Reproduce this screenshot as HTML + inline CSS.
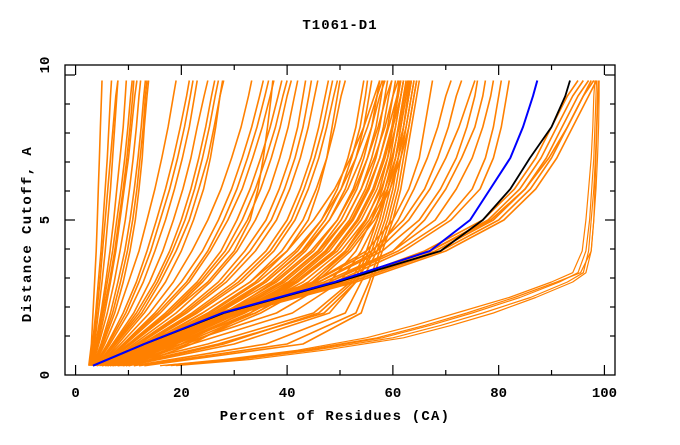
<!DOCTYPE html>
<html><head><meta charset="utf-8"><style>
html,body{margin:0;padding:0;background:#fff;}
svg text{font-family:"Liberation Mono",monospace;font-weight:bold;fill:#000;}
</style></head><body>
<svg id="chart" width="680" height="440" viewBox="0 0 680 440" xmlns="http://www.w3.org/2000/svg">
<rect x="0" y="0" width="680" height="440" fill="#fff"/>
<text x="340" y="29" text-anchor="middle" font-size="14" letter-spacing="1">T1061-D1</text>
<g id="series"></g>
<g id="axes"></g>
<text x="335" y="420" text-anchor="middle" font-size="14" letter-spacing="1.2">Percent of Residues (CA)</text>
<text x="31" y="234" text-anchor="middle" font-size="14" letter-spacing="1.4" transform="rotate(-90 31 234)">Distance Cutoff, A</text>
</svg>
<script>
const levels = [0.3,1,2,3,4,5,6,7,8,9,9.5];
const orangeCurves = [
[2.5,3,3.3,3.6,3.9,4.1,4.3,4.5,4.7,4.9,5],
[2.6,3.2,3.8,4.3,4.8,5.2,5.6,6,6.3,6.6,6.8],
[2.8,3.6,4.3,5,5.6,6.1,6.6,7,7.4,7.8,8],
[3,3.8,4.8,5.7,6.5,7.2,7.8,8.4,9,9.4,9.6],
[3,4,5.2,6.4,7.4,8.2,9,9.7,10.3,10.8,11],
[3.2,4.4,6,7.3,8.4,9.4,10.2,10.9,11.5,12,12.3],
[3.3,4.8,6.6,8,9.3,10.3,11.1,11.8,12.4,12.9,13.2],
[3.5,5.2,7.4,9,10.3,11.3,12,12.6,13,13.5,13.8],
[2.7,3.4,4,4.6,5.1,5.6,6.1,6.6,7.1,7.6,8],
[3.1,4.2,5.5,6.6,7.6,8.4,9.2,10,10.6,11.2,11.6],
[2.9,3.9,5,6,7,7.8,8.6,9.3,9.9,10.4,10.7],
[3.4,5,7,8.5,9.8,10.8,11.6,12.2,12.8,13.2,13.5],
[3.5,5.5,8,10,12,13.5,15,16.3,17.5,18.5,19],
[3.6,6,9,11.5,13.5,15.3,17,18.5,19.8,21,21.5],
[3.8,6.5,10,12.8,15,17,18.7,20.2,21.5,22.5,23],
[4,7,11,14,16.5,18.5,20.3,21.8,23,24.3,25],
[4,7.2,11.5,15,17.8,20,21.8,23.3,24.6,25.7,26.3],
[4.2,7.6,12.5,16,19,21.5,23.3,25,26.2,27.3,28],
[4.5,8,13,17,20,22.3,24.2,25.5,26.5,27.3,27.8],
[3.7,6.2,9.5,12,14.2,16,17.8,19.3,20.6,21.7,22.2],
[4.1,7.4,12,15.5,18.3,20.7,22.5,24,25.3,26.4,27],
[4.5,8.5,14,18.5,22,25,27.5,29.5,31.3,32.7,33.3],
[4.7,9,15,20,24,27,29.5,31.5,33.3,34.8,35.5],
[5,9.5,16,21.5,25.5,28.8,31.5,33.5,35.3,36.8,37.5],
[5,10,17,23,27.5,30.5,33,35,36.8,38.3,39],
[5.2,10.5,18,24,29,32.5,35,37,38.7,40,40.8],
[5.5,11,19,25.5,30.5,34,36.7,38.6,40.2,41.4,42],
[5,10,18,25,30,33,34.5,35.5,36.3,37,37.3],
[4.8,9.2,15.5,21,25,28,30.5,32.5,34.3,35.8,36.5],
[5.1,10.2,17.5,23.5,28.3,31.5,34,36,37.8,39.2,40],
[5.5,11.5,20,27,32,36,38.5,40.5,42,43,43.5],
[5.8,12,21,28.5,34,38,40.5,42.5,44,45.2,45.8],
[6,12.5,22,30,36,40,42.5,44.5,46,47.2,47.8],
[6,13,23,31.5,37.5,41.5,44,46,47.5,48.8,49.5],
[6.2,13.5,24,33,39,43,45.5,47.5,49,50.2,51],
[6.5,14,25,34,40,44,46,47.5,48.5,49.5,50],
[5.7,11.8,20.5,27.8,33,37,39.5,41.5,43,44.1,44.6],
[6.1,12.8,22.5,30.8,36.8,40.8,43.2,45.2,46.8,48,48.6],
[6.5,14.5,26,35.5,42,46.5,49.5,51.5,53,54,54.5],
[7,15,27,37,43.5,48,51,53,54.5,55.5,56],
[7,15.5,28,38,45,49.5,52.5,54.5,56,57,57.5],
[7.5,16,29,39.5,46.5,51,54,56,57.5,58.5,59],
[8,17,30,41,48,52.5,55.5,57.5,59,60,60.5],
[8.5,18,31,42,49.5,54,57,59,60.5,61.5,62],
[9,19,33,44,51,55.5,58.5,60.5,62,63,63.5],
[10,21,35,45.5,52,56.5,59.5,61.5,63,64,64.5],
[7,14,24,33,40,45,49,52,54.5,56.5,57.5],
[8,16,27,36,43,48,51.5,54,56,57.5,58.5],
[9,18,30,39,46,51,54,56.5,58.5,60,61],
[11,22,33,42,49,53.5,56.5,58.5,60,61.5,62],
[6.8,14.8,26.5,36,42.8,47.2,50.2,52.2,53.8,54.8,55.2],
[7.2,15.8,28.5,38.8,45.8,50.2,53.2,55.2,56.8,57.8,58.2],
[7.8,16.5,29.5,40.2,47.2,51.8,54.8,56.8,58.2,59.2,59.8],
[8.2,17.5,30.5,41.5,48.8,53.2,56.2,58.2,59.8,60.8,61.2],
[8.8,18.5,32,43,50.2,54.8,57.8,59.8,61.2,62.2,62.8],
[9.5,20,34,44.8,51.5,56,59,61,62.5,63.5,64],
[7.5,15,25.5,34.5,41.5,46.5,50.2,53,55.2,57,58],
[8.5,17,28.5,37.5,44.5,49.5,52.8,55.2,57.2,58.8,59.8],
[10,20,31.5,40.5,47.5,52.2,55.2,57.5,59.2,60.8,61.5],
[8,25,45,52,55,57,58.5,60,61,62,62.5],
[10,30,48,53,56,58,59.5,61,62,63,63.5],
[11,36,51,54,57,59,60.5,61.5,62.5,63.5,64],
[13,43,54,56,58,60,61.5,62.5,63.5,64.5,65],
[6,20,38,48,53,56,58,59.5,60.5,61.5,62],
[7,22,41,50,54,57,59,60.5,61.5,62.5,63],
[9,27,47,53,56.5,58.5,60,61,62,62.8,63.2],
[12,40,53,55.5,57.5,59.5,61,62,63,64,64.5],
[9.5,28,46,52.5,55.5,57.5,59,60.5,61.5,62.5,63],
[6.5,18,34,45,51,55,57.5,59,60,61,61.5],
[5,12,27,45,56,62,66,68.5,70.5,72,73],
[5,12.5,28,46,58,65,69,72,74,75.5,76],
[5.5,13,29,47,60,68,72,75,77,78.5,79],
[5,12,27,46,57,63,67,70,72.5,74.5,75.5],
[6,14,30,48,61,70,75,77.5,79,80,80.5],
[5.5,13,28,45,55,60,63,65,66,67,67.5],
[6,14,31,49,62,71,76.5,79,80.5,81.5,82],
[5.5,12.5,28,46,57,61,64,66.5,68.5,70,71],
[6,13.5,30,48,60,66,70,73,75.5,77,77.5],
[4,12,29,50,66,77,83,87,90,93,95],
[4,12,29,51,67,78,84,88,91,94,96],
[4,12.5,30,52,68,79,85,89,92,95,97],
[4,13,30,52,69,80,86,90,93,96,98],
[4.5,13,31,53,70,81,87,91,94,97,98.5],
[4,12,29,50,67,78.5,85,89.5,93,96,97.5]
];
const tailLevels = [0.3,0.5,0.8,1.2,1.6,2,2.5,3,3.3,4,5,6,7,8,9,9.5];
const tailCurves = [
[16,28,42,55,64,72,82,90,94,95.8,96.5,97,97.5,97.8,98,98.2],
[17,30,44,58,67,75,84,91.5,95,96.5,97.2,97.6,98,98.2,98.4,98.5],
[18,31,45,60,69,77,86,93,96,97,97.5,98,98.3,98.5,98.7,98.8],
[16,29,43,57,66,74,83,91,95.5,97.5,98,98.2,98.4,98.6,98.8,99],
[19,33,47,62,71,79,87,94,96.5,97.5,98,98.4,98.7,98.9,99,99]
];
const blackCurve = [3.3,13,28,49.5,69,77,82.2,85.9,90,92.6,93.5];
const blueCurve = [3.3,13,27.7,49,67,74.6,78.4,82.2,84.6,86.5,87.3];
const xTicks = [0,10,20,30,40,50,60,70,80,90,100];
const xTickLabels = ["0","20","40","60","80","100"];
const yTickLabels = ["0","5","10"];

const NS = "http://www.w3.org/2000/svg";
const L = 65, R = 615, T = 65, B = 375;
function X(v){ return L + (v + 2) * (R - L) / 104; }
function Y(d){ return B - d * (B - T) / 10; }
const series = document.getElementById('series');
const axes = document.getElementById('axes');
function poly(xs, ds, color, w, name){
  const p = document.createElementNS(NS, 'polyline');
  p.setAttribute('points', xs.map((x,i)=>X(x).toFixed(1)+','+Y(ds[i]).toFixed(1)).join(' '));
  p.setAttribute('fill', 'none');
  p.setAttribute('stroke', color);
  p.setAttribute('stroke-width', w);
  p.setAttribute('stroke-linejoin', 'round');
  
  
  series.appendChild(p);
}
orangeCurves.forEach(c => poly(c, levels, '#ff8000', 1.6, 'model-curve'));
tailCurves.forEach(c => poly(c, tailLevels, '#ff8000', 1.2, 'model-curve-tail'));
poly(blackCurve, levels, '#000', 1.8, 'reference-curve-black');
poly(blueCurve, levels, '#0000ff', 2, 'highlight-curve-blue');

function line(x1,y1,x2,y2,name,w){
  const l = document.createElementNS(NS,'line');
  l.setAttribute('x1',x1); l.setAttribute('y1',y1); l.setAttribute('x2',x2); l.setAttribute('y2',y2);
  l.setAttribute('stroke','#000'); l.setAttribute('stroke-width', w||1);
  
  
  axes.appendChild(l);
}
const frame = document.createElementNS(NS,'rect');
frame.setAttribute('x',L); frame.setAttribute('y',T); frame.setAttribute('width',R-L); frame.setAttribute('height',B-T);
frame.setAttribute('fill','none'); frame.setAttribute('stroke','#000'); frame.setAttribute('stroke-width','1.3');


axes.appendChild(frame);
xTicks.forEach(v => {
  const len = (v % 20 === 0) ? 10 : 5;
  line(X(v), B, X(v), B - len, 'x-tick', 1.2);
  line(X(v), T, X(v), T + len, 'x-tick-top', 1.2);
});
const yTickPix = [75,104,133,162,191,220,249,278,307,336];
yTickPix.forEach(py => {
  const len = (py === 75 || py === 220) ? 10 : 5;
  line(L, py, L + len, py, 'y-tick', 1.2);
  line(R, py, R - len, py, 'y-tick-right', 1.2);
});
xTickLabels.forEach(s => {
  const t = document.createElementNS(NS,'text');
  t.setAttribute('x', X(parseFloat(s)));
  t.setAttribute('y', 397);
  t.setAttribute('text-anchor','middle');
  t.setAttribute('font-size','14');
  
  
  t.textContent = s;
  axes.appendChild(t);
});
yTickLabels.forEach(s => {
  const t = document.createElementNS(NS,'text');
  const py = Y(parseFloat(s));
  t.setAttribute('x', 49);
  t.setAttribute('y', py);
  t.setAttribute('text-anchor','middle');
  t.setAttribute('font-size','14');
  t.setAttribute('transform','rotate(-90 49 '+py+')');
  
  
  t.textContent = s;
  axes.appendChild(t);
});
</script>
</body></html>
